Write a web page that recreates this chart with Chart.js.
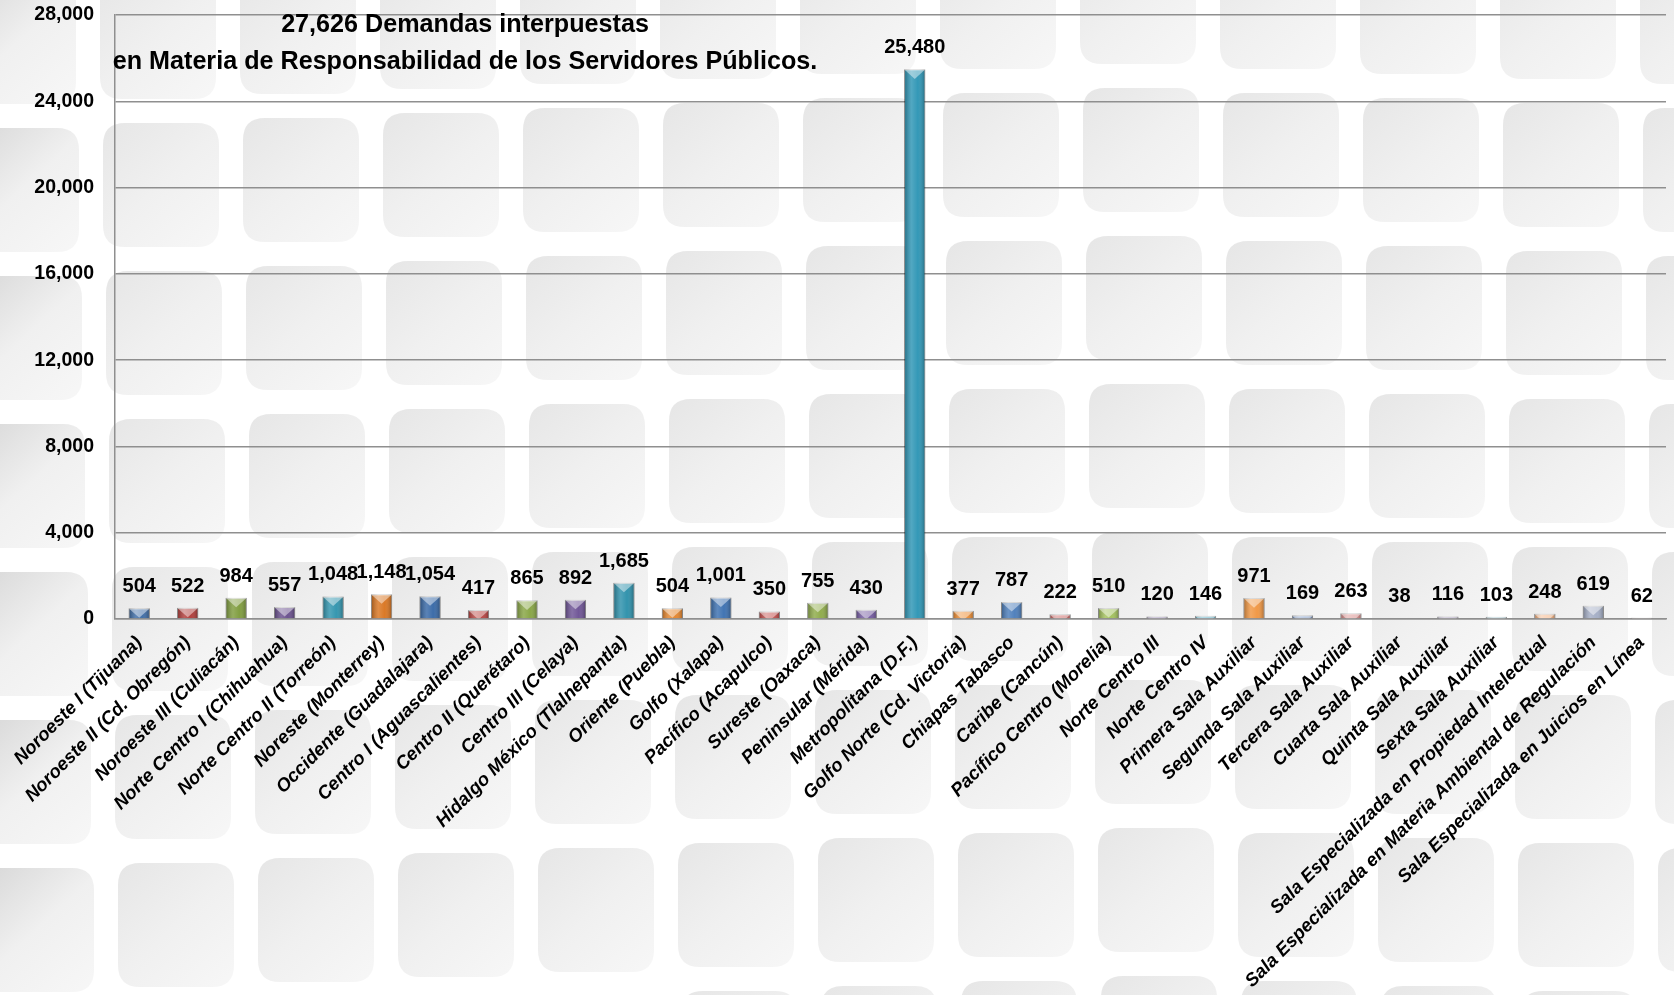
<!DOCTYPE html>
<html lang="es">
<head>
<meta charset="utf-8">
<title>Demandas interpuestas</title>
<script src="https://cdn.jsdelivr.net/npm/chart.js@4.4.0/dist/chart.umd.min.js"></script>
<style>
  html, body { margin: 0; padding: 0; background: #fff; }
  #contenedor { width: 1674px; height: 995px; position: relative; }
</style>
</head>
<body>
<div id="contenedor"><canvas id="grafica"></canvas></div>
<script>
// Salas regionales
var salas = [
    'Noroeste I (Tijuana)', 'Noroeste II (Cd. Obregón)', 'Noroeste III (Culiacán)',
    'Norte Centro I (Chihuahua)', 'Norte Centro II (Torreón)', 'Noreste (Monterrey)',
    'Occidente (Guadalajara)', 'Centro I (Aguascalientes)', 'Centro II (Querétaro)',
    'Centro III (Celaya)', 'Hidalgo México (Tlalnepantla)', 'Oriente (Puebla)',
    'Golfo (Xalapa)', 'Pacífico (Acapulco)', 'Sureste (Oaxaca)', 'Peninsular (Mérida)',
    'Metropolitana (D.F.)', 'Golfo Norte (Cd. Victoria)', 'Chiapas Tabasco',
    'Caribe (Cancún)', 'Pacífico Centro (Morelia)', 'Norte Centro III', 'Norte Centro IV',
    'Primera Sala Auxiliar', 'Segunda Sala Auxiliar', 'Tercera Sala Auxiliar',
    'Cuarta Sala Auxiliar', 'Quinta Sala Auxiliar', 'Sexta Sala Auxiliar',
    'Sala Especializada en Propiedad Intelectual',
    'Sala Especializada en Materia Ambiental de Regulación',
    'Sala Especializada en Juicios en Línea'
];

// Demandas por sala
var demandas = [
    504, 522, 984, 557, 1048, 1148, 1054, 417, 865, 892, 1685, 504,
    1001, 350, 755, 430, 25480, 377, 787, 222, 510, 120, 146, 971,
    169, 263, 38, 116, 103, 248, 619, 62
];

// Colores de cada barra
var colores = [
    '#3C6BA5', '#B03A37', '#7D9B3B', '#674D8C', '#2E93AD', '#D9741E',
    '#3567A6', '#B8413E', '#86A441', '#6C5194', '#2A8FAA', '#E5842A',
    '#3A6FB0', '#C24B48', '#8DAA47', '#7258A0', '#2B94B4', '#EE8C30',
    '#4A7CBA', '#CC6663', '#A1C05A', '#8877A8', '#5BB0C8', '#F09540',
    '#7E99C6', '#D88A88', '#A9BE82', '#9A8DB2', '#7EB5C5', '#F5B07E',
    '#A3ADC5', '#B09090'
];

// Marcas del eje vertical
var ticksY = [0, 4000, 8000, 12000, 16000, 20000, 24000, 28000];

var titulo = ['27,626 Demandas interpuestas', 'en Materia de Responsabilidad de los Servidores Públicos.'];

var fuente = "'Liberation Sans', Arial, sans-serif";

function formato(v) {
    return Number(v).toLocaleString('en-US');
}

function rectRedondo(c, x, y, w, h, r) {
    c.beginPath();
    c.moveTo(x + r, y);
    c.lineTo(x + w - r, y);
    c.quadraticCurveTo(x + w, y, x + w, y + r);
    c.lineTo(x + w, y + h - r);
    c.quadraticCurveTo(x + w, y + h, x + w - r, y + h);
    c.lineTo(x + r, y + h);
    c.quadraticCurveTo(x, y + h, x, y + h - r);
    c.lineTo(x, y + r);
    c.quadraticCurveTo(x, y, x + r, y);
    c.closePath();
}

// Fondo de cuadros grises
var fondo = {
    id: 'fondo',
    beforeDraw: function (chart) {
        var c = chart.ctx;
        c.save();
        c.fillStyle = '#ffffff';
        c.fillRect(0, 0, chart.width, chart.height);
        for (var fila = 0; fila < 8; fila++) {
            for (var col = 0; col < 13; col++) {
                var x = -40 + col * 140 + fila * 3;
                var y = -60 + fila * 148 + Math.abs(col - 8) * 5;
                var g = c.createLinearGradient(x, y, x + 115, y + 125);
                var oscuro = col === 0 ? '#d6d6d6' : '#e6e6e6';
                g.addColorStop(0, oscuro);
                g.addColorStop(0.5, '#f0f0f0');
                g.addColorStop(1, '#f7f7f7');
                c.fillStyle = g;
                rectRedondo(c, x, y, 116, 124, 22);
                c.fill();
            }
        }
        c.restore();
    }
};

// Relieve de las barras
var relieve = {
    id: 'relieve',
    afterDatasetsDraw: function (chart) {
        var c = chart.ctx;
        var meta = chart.getDatasetMeta(0);
        meta.data.forEach(function (barra) {
            var p = barra.getProps(['x', 'y', 'base', 'width'], true);
            var izq = p.x - p.width / 2;
            var alto = p.base - p.y;
            if (alto <= 0) return;
            c.save();
            c.beginPath();
            c.rect(izq, p.y, p.width, alto);
            c.clip();
            var g = c.createLinearGradient(izq, 0, izq + p.width, 0);
            g.addColorStop(0, 'rgba(0,0,0,0.30)');
            g.addColorStop(0.35, 'rgba(255,255,255,0.18)');
            g.addColorStop(0.65, 'rgba(255,255,255,0.04)');
            g.addColorStop(1, 'rgba(0,0,0,0.32)');
            c.fillStyle = g;
            c.fillRect(izq, p.y, p.width, alto);
            var prof = p.width * 0.45;
            c.beginPath();
            c.moveTo(izq, p.y);
            c.lineTo(izq + p.width, p.y);
            c.lineTo(p.x, p.y + prof);
            c.closePath();
            c.fillStyle = 'rgba(255,255,255,0.45)';
            c.fill();
            c.restore();
        });
    }
};

// Etiquetas de valores
var etiquetas = {
    id: 'etiquetas',
    afterDatasetsDraw: function (chart) {
        var c = chart.ctx;
        var meta = chart.getDatasetMeta(0);
        c.save();
        c.font = 'bold 20px ' + fuente;
        c.fillStyle = '#000';
        c.textAlign = 'center';
        c.textBaseline = 'alphabetic';
        meta.data.forEach(function (barra, i) {
            c.fillText(formato(demandas[i]), barra.x, barra.y - 16);
        });
        c.restore();
    }
};

// Título dentro del área
var tituloPlugin = {
    id: 'tituloPlugin',
    afterDraw: function (chart) {
        var c = chart.ctx;
        var area = chart.chartArea;
        c.save();
        c.font = 'bold 20px ' + fuente;
        var tam = 20 * 705 / c.measureText(titulo[1]).width;
        c.font = 'bold ' + tam + 'px ' + fuente;
        c.fillStyle = '#000';
        c.textAlign = 'center';
        c.textBaseline = 'middle';
        var cx = area.left + 350;
        c.fillText(titulo[0], cx, area.top + 10);
        c.fillText(titulo[1], cx, area.top + 47);
        c.restore();
    }
};

var ctx = document.getElementById('grafica');

if (ctx) {
    var grafica = new Chart(ctx, {
        type: 'bar',
        data: {
            labels: salas,
            datasets: [{
                label: 'Demandas',
                data: demandas,
                backgroundColor: colores,
                borderColor: 'rgba(0,0,0,0.25)',
                borderWidth: 1,
                barPercentage: 0.44,
                categoryPercentage: 1
            }]
        },
        options: {
            responsive: true,
            maintainAspectRatio: false,
            animation: false,
            layout: {
                padding: { top: 15, right: 8, bottom: 0, left: 0 }
            },
            scales: {
                y: {
                    min: 0,
                    max: 28000,
                    afterBuildTicks: function (scale) {
                        scale.ticks = ticksY.map(function (v) { return { value: v }; });
                    },
                    afterFit: function (scale) {
                        scale.width = 115;
                        scale.paddingTop = 0;
                        scale.paddingBottom = 0;
                    },
                    ticks: {
                        color: '#000',
                        padding: 21,
                        font: { family: fuente, size: 19.5, weight: 'bold' },
                        callback: function (v) { return formato(v); }
                    },
                    grid: {
                        color: '#8f8f8f',
                        lineWidth: 1.5,
                        drawTicks: false
                    },
                    border: { display: true, color: '#8f8f8f', width: 1.5 }
                },
                x: {
                    afterFit: function (scale) {
                        scale.height = 376;
                        scale.paddingLeft = 0;
                        scale.paddingRight = 0;
                    },
                    ticks: {
                        color: '#000',
                        autoSkip: false,
                        maxRotation: 45,
                        minRotation: 45,
                        padding: 5,
                        font: { family: fuente, size: 18.5, weight: 'bold', style: 'italic' }
                    },
                    grid: { display: false },
                    border: { display: true, color: '#8f8f8f', width: 1.5 }
                }
            },
            plugins: {
                legend: { display: false },
                tooltip: { enabled: false }
            }
        },
        plugins: [fondo, relieve, etiquetas, tituloPlugin]
    });
} else {
    console.error("No se encontró el canvas 'grafica'.");
}
</script>
</body>
</html>
